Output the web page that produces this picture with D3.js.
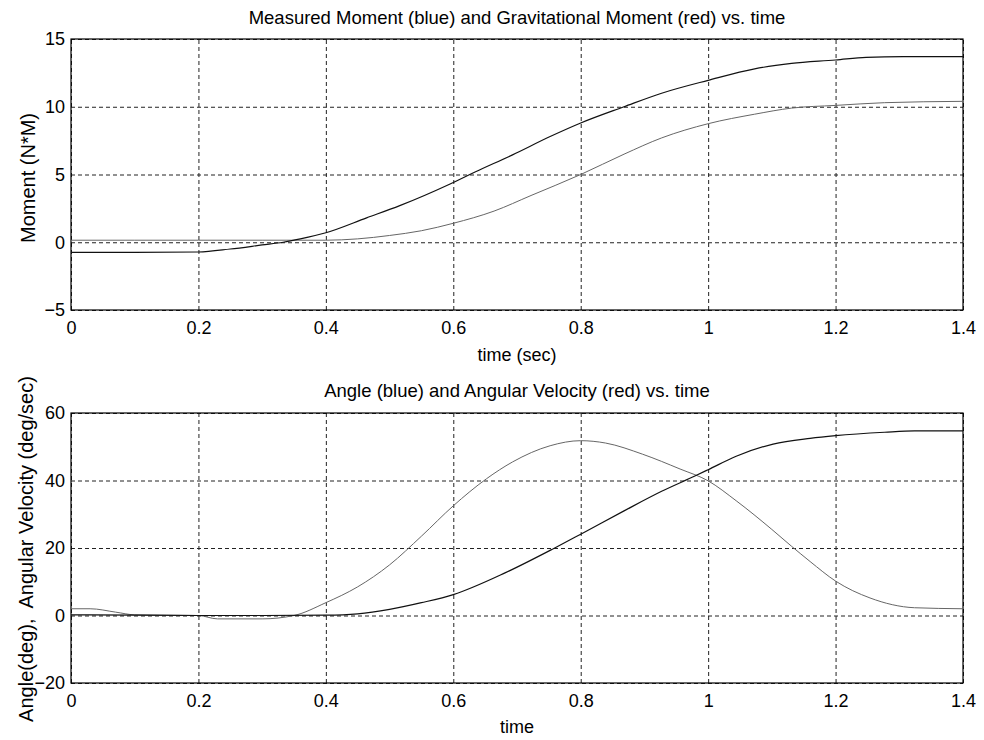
<!DOCTYPE html>
<html>
<head>
<meta charset="utf-8">
<script src="https://cdn.jsdelivr.net/npm/d3@7"></script>
<style>
  html, body { margin: 0; padding: 0; background: #fff; }
  svg { display: block; font-family: "Liberation Sans", Arial, Helvetica, sans-serif; }
</style>
</head>
<body>
<svg id="chart" width="984" height="740"></svg>
<script>
// ---- Data -------------------------------------------------------------
const xTicks = [0, 0.2, 0.4, 0.6, 0.8, 1, 1.2, 1.4];
const momentTicks = [-5, 0, 5, 10, 15];
const angleTicks = [-20, 0, 20, 40, 60];

// Measured moment (blue), N*M
const measuredTime = [0, 0.1, 0.2, 0.25, 0.3, 0.333, 0.36, 0.4, 0.464, 0.516, 0.595, 0.635, 0.693, 0.752, 0.8, 0.868, 0.927, 1.0, 1.073, 1.131, 1.2, 1.248, 1.306, 1.4];
const measuredMoment = [-0.75, -0.75, -0.72, -0.5, -0.2, 0.0, 0.25, 0.7, 1.8, 2.7, 4.3, 5.2, 6.45, 7.8, 8.8, 10.0, 11.0, 11.95, 12.8, 13.2, 13.45, 13.65, 13.7, 13.7];

// Gravitational moment (red), N*M
const gravTime = [0, 0.1, 0.2, 0.3, 0.35, 0.4, 0.45, 0.5, 0.55, 0.6, 0.664, 0.722, 0.8, 0.868, 0.927, 1.0, 1.073, 1.131, 1.2, 1.277, 1.4];
const gravMoment = [0.15, 0.15, 0.15, 0.15, 0.15, 0.15, 0.25, 0.5, 0.85, 1.4, 2.3, 3.45, 5.0, 6.5, 7.7, 8.75, 9.45, 9.9, 10.1, 10.3, 10.4];

// Angle (blue), deg
const angleTime = [0, 0.1, 0.2, 0.3, 0.4, 0.45, 0.5, 0.55, 0.6, 0.682, 0.757, 0.8, 0.868, 0.927, 0.98, 1.0, 1.044, 1.102, 1.16, 1.2, 1.277, 1.324, 1.4];
const angleDeg = [0.2, 0.1, 0, 0, 0.1, 0.5, 1.8, 3.8, 6.2, 12.7, 19.8, 24.1, 31.0, 36.8, 41.4, 43.2, 47.2, 50.8, 52.5, 53.3, 54.3, 54.7, 54.7];

// Angular velocity (red), deg/sec
const velTime = [0, 0.03, 0.07, 0.1, 0.2, 0.23, 0.3, 0.35, 0.4, 0.45, 0.5, 0.55, 0.6, 0.652, 0.693, 0.752, 0.8, 0.839, 0.897, 0.956, 1.0, 1.044, 1.1, 1.131, 1.16, 1.2, 1.254, 1.324, 1.4];
const velDeg = [2.0, 2.0, 1.0, 0.2, 0, -1, -1, 0, 3.8, 8.5, 15.0, 23.5, 32.5, 40.5, 45.5, 50.3, 51.8, 51.1, 47.8, 43.4, 39.9, 34.0, 25.5, 20.5, 16.0, 10.2, 5.2, 2.3, 2.0];

// ---- Drawing ----------------------------------------------------------
const svg = d3.select("#chart");
const FONT = 18;
const left = 71, right = 963;

const x = d3.scaleLinear().domain([0, 1.4]).range([left, right]);

function panel(cfg) {
  const y = d3.scaleLinear().domain(cfg.yDomain).range([cfg.bottom, cfg.top]);
  const g = svg.append("g");

  // dashed grid
  g.append("g")
    .attr("transform", `translate(0,${cfg.bottom})`)
    .call(d3.axisBottom(x).tickValues(xTicks).tickSize(-(cfg.bottom - cfg.top)).tickFormat(""))
    .call(a => a.select(".domain").remove())
    .call(a => a.selectAll("line").attr("stroke", "#222").attr("stroke-width", 1).attr("stroke-dasharray", "4,3"));
  g.append("g")
    .attr("transform", `translate(${left},0)`)
    .call(d3.axisLeft(y).tickValues(cfg.yTicks).tickSize(-(right - left)).tickFormat(""))
    .call(a => a.select(".domain").remove())
    .call(a => a.selectAll("line").attr("stroke", "#222").attr("stroke-width", 1).attr("stroke-dasharray", "4,3"));

  // tick labels
  g.append("g")
    .attr("transform", `translate(0,${cfg.bottom})`)
    .call(d3.axisBottom(x).tickValues(xTicks).tickSize(0).tickPadding(11.5).tickFormat(d3.format("")))
    .call(a => a.select(".domain").remove())
    .call(a => a.selectAll("text").attr("font-size", FONT).attr("fill", "#000").attr("font-family", null));
  g.append("g")
    .attr("transform", `translate(${left},0)`)
    .call(d3.axisLeft(y).tickValues(cfg.yTicks).tickSize(0).tickPadding(6))
    .call(a => a.select(".domain").remove())
    .call(a => a.selectAll("text").attr("font-size", FONT).attr("fill", "#000").attr("font-family", null));

  // box
  g.append("rect")
    .attr("x", left).attr("y", cfg.top)
    .attr("width", right - left).attr("height", cfg.bottom - cfg.top)
    .attr("fill", "none").attr("stroke", "#000").attr("stroke-width", 1.2);

  // series
  cfg.series.forEach(s => {
    const pts = s.t.map((t, i) => [t, s.v[i]]);
    g.append("path")
      .datum(pts)
      .attr("fill", "none")
      .attr("stroke", s.color)
      .attr("stroke-width", s.width)
      .attr("d", d3.line().x(d => x(d[0])).y(d => y(d[1])).curve(d3.curveMonotoneX));
  });

  // title and labels
  g.append("text")
    .attr("x", (left + right) / 2).attr("y", cfg.titleY)
    .attr("text-anchor", "middle").attr("font-size", 18.5)
    .text(cfg.title);
  g.append("text")
    .attr("x", (left + right) / 2).attr("y", cfg.xLabelY)
    .attr("text-anchor", "middle").attr("font-size", FONT)
    .text(cfg.xLabel);
  g.append("text")
    .attr("transform", `translate(${cfg.yLabelX},${cfg.yLabelCY}) rotate(-90)`)
    .attr("text-anchor", "middle").attr("font-size", 20)
    .attr("xml:space", "preserve")
    .text(cfg.yLabel);
}

panel({
  top: 39, bottom: 310,
  yDomain: [-5, 15], yTicks: momentTicks,
  title: "Measured Moment (blue) and Gravitational Moment (red) vs. time",
  titleY: 24,
  xLabel: "time (sec)", xLabelY: 361,
  yLabel: "Moment (N*M)", yLabelX: 35, yLabelCY: 178,
  series: [
    { t: gravTime, v: gravMoment, color: "#666", width: 1 },
    { t: measuredTime, v: measuredMoment, color: "#111", width: 1.2 }
  ]
});

panel({
  top: 413, bottom: 683,
  yDomain: [-20, 60], yTicks: angleTicks,
  title: "Angle (blue) and Angular Velocity (red) vs. time",
  titleY: 397,
  xLabel: "time", xLabelY: 733,
  yLabel: "Angle(deg),  Angular Velocity (deg/sec)", yLabelX: 33, yLabelCY: 549,
  series: [
    { t: velTime, v: velDeg, color: "#666", width: 1 },
    { t: angleTime, v: angleDeg, color: "#111", width: 1.2 }
  ]
});
</script>
</body>
</html>
